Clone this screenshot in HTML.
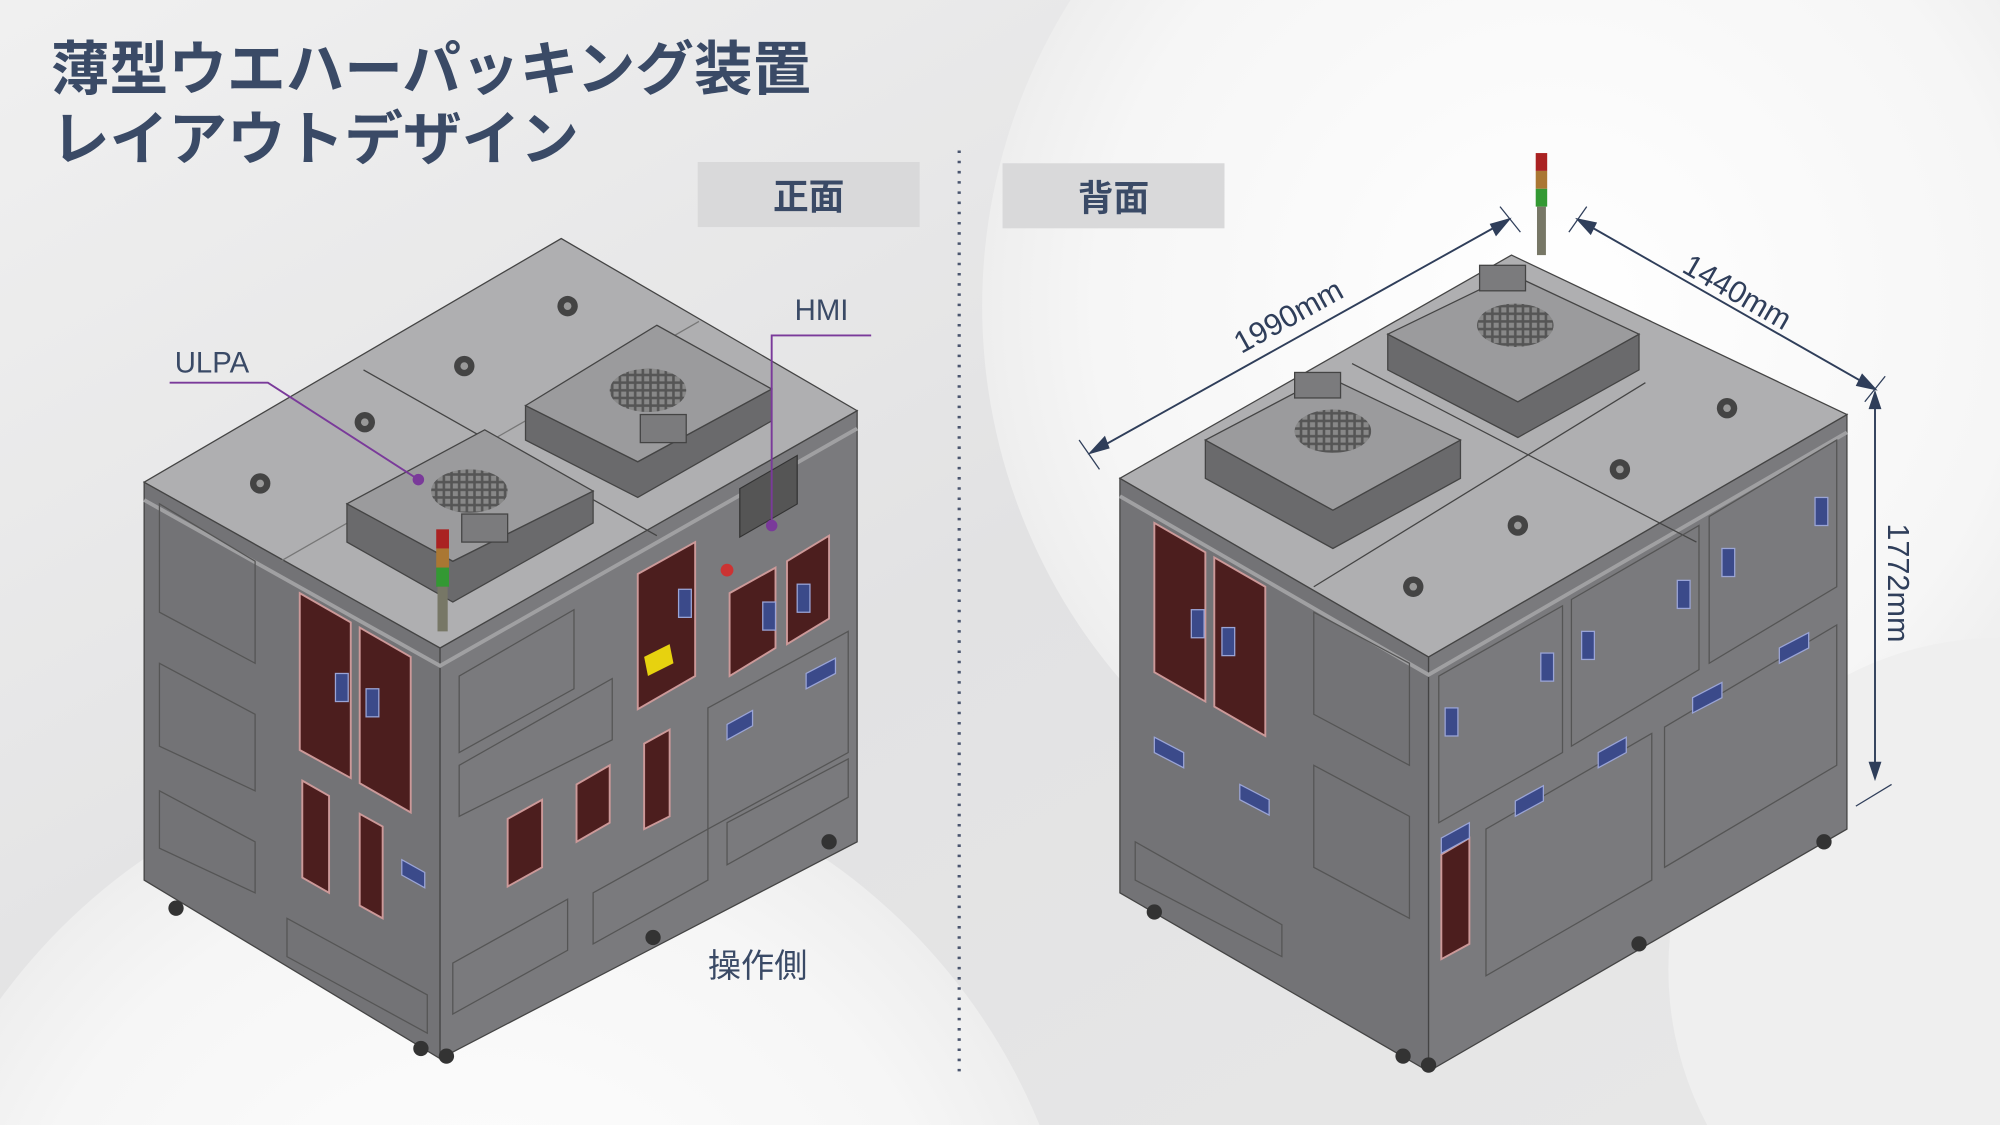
<!DOCTYPE html>
<html><head><meta charset="utf-8"><style>
html,body{margin:0;padding:0;width:2000px;height:1125px;overflow:hidden;background:#e5e5e6}
svg{display:block;overflow:hidden}
text{font-family:"Liberation Sans","Noto Sans CJK JP",sans-serif}
</style></head><body>
<svg width="2000" height="1125" viewBox="0 0 1568 882" xmlns="http://www.w3.org/2000/svg">
<defs>
<radialGradient id="g1" cx="0.5" cy="0.5" r="0.5"><stop offset="0" stop-color="#ffffff"/><stop offset="0.8" stop-color="#f6f6f6"/><stop offset="1" stop-color="#eeeeee"/></radialGradient>
<linearGradient id="bg" x1="0" y1="0" x2="1" y2="1"><stop offset="0" stop-color="#f0f0f0"/><stop offset="0.5" stop-color="#e2e2e3"/><stop offset="1" stop-color="#e8e8e8"/></linearGradient>
<pattern id="grid" width="6" height="6" patternUnits="userSpaceOnUse"><rect width="6" height="6" fill="#555"/><rect x="1" y="1" width="4" height="4" fill="#888"/></pattern>
</defs>
<rect width="1568" height="882" fill="url(#bg)"/>
<circle cx="1220" cy="240" r="450" fill="url(#g1)"/>
<circle cx="380" cy="1060" r="470" fill="url(#g1)"/>
<circle cx="1568" cy="760" r="260" fill="#efefef"/>

<text x="40" y="70" font-size="46" font-weight="bold" fill="#3a4a66">薄型ウエハーパッキング装置</text>
<text x="40" y="125" font-size="46" font-weight="bold" fill="#3a4a66">レイアウトデザイン</text>

<rect x="547" y="127" width="174" height="51" fill="#d9d9da"/>
<text x="634" y="164" font-size="28" font-weight="bold" fill="#3a4a66" text-anchor="middle">正面</text>
<rect x="786" y="128" width="174" height="51" fill="#d9d9da"/>
<text x="873" y="165" font-size="28" font-weight="bold" fill="#3a4a66" text-anchor="middle">背面</text>

<line x1="752" y1="118" x2="752" y2="842" stroke="#4a556e" stroke-width="2.5" stroke-dasharray="2,6"/>

<!-- LEFT MACHINE -->
<g stroke="#444" stroke-width="1">
<polygon points="113,378 345,508 345,830 113,690" fill="#737376"/>
<polygon points="345,508 672,322 672,660 345,830" fill="#7a7a7d"/>
<polygon points="113,378 440,187 672,322 345,508" fill="#afafb1"/>
<polyline points="113,392 345,522 672,336" fill="none" stroke="#a0a0a2" stroke-width="3"/>
<line x1="220" y1="440" x2="548" y2="252" stroke="#777"/>
<line x1="285" y1="290" x2="515" y2="420"/>
<polygon points="272,395 272,425 355,472 465,410 465,385 355,440" fill="#6a6a6c"/>
<polygon points="272,395 380,337 465,385 355,440" fill="#9b9b9d"/>
<polygon points="412,318 412,345 500,390 605,330 605,305 500,362" fill="#6a6a6c"/>
<polygon points="412,318 515,255 605,305 500,362" fill="#9b9b9d"/>
</g>
<ellipse cx="368" cy="385" rx="30" ry="17" fill="url(#grid)"/>
<ellipse cx="508" cy="306" rx="30" ry="17" fill="url(#grid)"/>
<rect x="362" y="403" width="36" height="22" fill="#7b7b7d" stroke="#444"/>
<rect x="502" y="325" width="36" height="22" fill="#7b7b7d" stroke="#444"/>
<g fill="#444"><circle cx="204" cy="379" r="8"/><circle cx="286" cy="331" r="8"/><circle cx="364" cy="287" r="8"/><circle cx="445" cy="240" r="8"/></g>
<g fill="#999"><circle cx="204" cy="379" r="3"/><circle cx="286" cy="331" r="3"/><circle cx="364" cy="287" r="3"/><circle cx="445" cy="240" r="3"/></g>
<g stroke="#c99" stroke-width="1.5" fill="#4c1e1e">
<polygon points="235,465 275,488 275,610 235,588"/>
<polygon points="282,492 322,515 322,637 282,614"/>
<polygon points="237,612 258,624 258,700 237,688" />
<polygon points="282,638 300,648 300,720 282,710"/>
</g>
<g stroke="#555" fill="none">
<polygon points="125,395 200,440 200,520 125,480"/>
<polygon points="125,520 200,560 200,620 125,585"/>
<polygon points="125,620 200,660 200,700 125,665"/>
<polygon points="225,720 335,780 335,810 225,750"/>
</g>
<g stroke="#c99" stroke-width="1.5" fill="#4c1e1e">
<polygon points="500,450 545,425 545,530 500,556"/>
<polygon points="572,465 608,445 608,508 572,530"/>
<polygon points="617,440 650,420 650,485 617,505"/>
<polygon points="398,642 425,627 425,680 398,695"/>
<polygon points="452,615 478,600 478,645 452,660"/>
<polygon points="505,583 525,572 525,640 505,650"/>
</g>
<g stroke="#555" fill="none">
<polygon points="360,530 450,478 450,540 360,590"/>
<polygon points="360,600 480,532 480,580 360,640"/>
<polygon points="555,555 665,495 665,590 555,650"/>
<polygon points="355,755 445,705 445,745 355,795"/>
<polygon points="465,700 555,650 555,690 465,740"/>
<polygon points="570,645 665,595 665,625 570,678"/>
</g>
<rect x="580" y="383" width="45" height="38" fill="#555" stroke="#333" transform="skewY(-30) translate(0,335)"/>
<polygon points="505,515 525,505 528,520 508,530" fill="#e7d20f"/>
<g fill="#3b4a8a" stroke="#9aa4d6">
<rect x="263" y="528" width="10" height="22"/><rect x="287" y="540" width="10" height="22"/>
<rect x="532" y="462" width="10" height="22"/><rect x="598" y="472" width="10" height="22"/><rect x="625" y="458" width="10" height="22"/>
<polygon points="632,528 655,516 655,528 632,540"/><polygon points="570,568 590,557 590,569 570,580"/><polygon points="315,674 333,684 333,696 315,686"/>
</g>
<circle cx="570" cy="447" r="5" fill="#c33"/>
<rect x="342" y="415" width="10" height="15" fill="#a22"/><rect x="342" y="430" width="10" height="15" fill="#a73"/><rect x="342" y="445" width="10" height="15" fill="#393"/><rect x="343" y="460" width="8" height="35" fill="#776"/>
<g fill="#333"><circle cx="138" cy="712" r="6"/><circle cx="330" cy="822" r="6"/><circle cx="350" cy="828" r="6"/><circle cx="512" cy="735" r="6"/><circle cx="650" cy="660" r="6"/></g>

<text x="137" y="292" font-size="23" fill="#3a4a66">ULPA</text>
<polyline points="133,300 210,300 328,376" fill="none" stroke="#7a3a9a" stroke-width="1.5"/>
<circle cx="328" cy="376" r="4.5" fill="#7a3a9a"/>
<text x="623" y="251" font-size="23" fill="#3a4a66">HMI</text>
<polyline points="683,263 605,263 605,412" fill="none" stroke="#7a3a9a" stroke-width="1.5"/>
<circle cx="605" cy="412" r="4.5" fill="#7a3a9a"/>
<text x="555" y="766" font-size="26" fill="#3a4a66">操作側</text>

<!-- RIGHT MACHINE -->
<g stroke="#444" stroke-width="1">
<polygon points="878,375 1120,515 1120,840 878,700" fill="#737376"/>
<polygon points="1120,515 1448,325 1448,650 1120,840" fill="#7a7a7d"/>
<polygon points="878,375 1185,200 1448,325 1120,515" fill="#afafb1"/>
<polyline points="878,389 1120,529 1448,339" fill="none" stroke="#a0a0a2" stroke-width="3"/>
<line x1="1030" y1="460" x2="1290" y2="300"/>
<line x1="1060" y1="285" x2="1330" y2="425"/>
<polygon points="945,345 945,375 1045,430 1145,375 1145,345 1045,400" fill="#6a6a6c"/>
<polygon points="945,345 1040,295 1145,345 1045,400" fill="#9b9b9d"/>
<polygon points="1088,262 1088,290 1190,343 1285,290 1285,262 1190,315" fill="#6a6a6c"/>
<polygon points="1088,262 1185,215 1285,262 1190,315" fill="#9b9b9d"/>
</g>
<ellipse cx="1045" cy="338" rx="30" ry="17" fill="url(#grid)"/>
<ellipse cx="1188" cy="255" rx="30" ry="17" fill="url(#grid)"/>
<rect x="1015" y="292" width="36" height="20" fill="#7b7b7d" stroke="#444"/>
<rect x="1160" y="208" width="36" height="20" fill="#7b7b7d" stroke="#444"/>
<g fill="#444"><circle cx="1108" cy="460" r="8"/><circle cx="1190" cy="412" r="8"/><circle cx="1270" cy="368" r="8"/><circle cx="1354" cy="320" r="8"/></g>
<g fill="#999"><circle cx="1108" cy="460" r="3"/><circle cx="1190" cy="412" r="3"/><circle cx="1270" cy="368" r="3"/><circle cx="1354" cy="320" r="3"/></g>
<g stroke="#c99" stroke-width="1.5" fill="#4c1e1e">
<polygon points="905,410 945,433 945,550 905,527"/>
<polygon points="952,437 992,460 992,577 952,554"/>
<polygon points="1130,670 1152,657 1152,740 1130,752"/>
</g>
<g stroke="#555" fill="none">
<polygon points="1030,480 1105,520 1105,600 1030,560"/>
<polygon points="1030,600 1105,640 1105,720 1030,680"/>
<polygon points="890,660 1005,725 1005,750 890,690"/>
<polygon points="1128,530 1225,475 1225,590 1128,645"/>
<polygon points="1232,470 1332,412 1332,525 1232,585"/>
<polygon points="1340,405 1440,345 1440,460 1340,520"/>
<polygon points="1165,650 1295,575 1295,690 1165,765"/>
<polygon points="1305,570 1440,490 1440,600 1305,680"/>
</g>
<g fill="#3b4a8a" stroke="#9aa4d6">
<rect x="934" y="478" width="10" height="22"/><rect x="958" y="492" width="10" height="22"/>
<rect x="1133" y="555" width="10" height="22"/><rect x="1208" y="512" width="10" height="22"/><rect x="1240" y="495" width="10" height="22"/><rect x="1315" y="455" width="10" height="22"/><rect x="1350" y="430" width="10" height="22"/><rect x="1423" y="390" width="10" height="22"/>
<polygon points="905,578 928,590 928,602 905,590"/><polygon points="972,615 995,627 995,639 972,627"/>
<polygon points="1188,628 1210,616 1210,628 1188,640"/><polygon points="1253,590 1275,578 1275,590 1253,602"/><polygon points="1327,547 1350,535 1350,547 1327,559"/><polygon points="1395,508 1418,496 1418,508 1395,520"/>
<polygon points="1130,657 1152,645 1152,657 1130,669"/>
</g>
<rect x="1204" y="120" width="9" height="14" fill="#a22"/><rect x="1204" y="134" width="9" height="14" fill="#a73"/><rect x="1204" y="148" width="9" height="14" fill="#393"/><rect x="1205" y="162" width="7" height="38" fill="#776"/>
<g fill="#333"><circle cx="905" cy="715" r="6"/><circle cx="1100" cy="828" r="6"/><circle cx="1120" cy="835" r="6"/><circle cx="1285" cy="740" r="6"/><circle cx="1430" cy="660" r="6"/></g>

<g stroke="#2f3e5a" stroke-width="1.5" fill="#2f3e5a">
<line x1="855" y1="355" x2="1183" y2="172"/>
<polygon points="855,355 866,343 869,351"/><polygon points="1183,172 1169,176 1173,184"/>
<line x1="846" y1="345" x2="862" y2="368" stroke-width="1"/><line x1="1176" y1="162" x2="1192" y2="182" stroke-width="1"/>
<line x1="1237" y1="172" x2="1470" y2="305"/>
<polygon points="1237,172 1251,175 1247,183"/><polygon points="1470,305 1456,302 1460,294"/>
<line x1="1230" y1="182" x2="1244" y2="162" stroke-width="1"/><line x1="1462" y1="315" x2="1478" y2="295" stroke-width="1"/>
<line x1="1470" y1="308" x2="1470" y2="610"/>
<polygon points="1470,308 1466,320 1474,320"/><polygon points="1470,610 1466,598 1474,598"/>
<line x1="1455" y1="632" x2="1483" y2="615" stroke-width="1"/>
</g>
<text x="0" y="0" font-size="24" fill="#2f3e5a" text-anchor="middle" transform="translate(1014,255) rotate(-29)">1990mm</text>
<text x="0" y="0" font-size="24" fill="#2f3e5a" text-anchor="middle" transform="translate(1358,236) rotate(30)">1440mm</text>
<text x="0" y="0" font-size="24" fill="#2f3e5a" text-anchor="middle" transform="translate(1480,457) rotate(90)">1772mm</text>
</svg>
</body></html>
